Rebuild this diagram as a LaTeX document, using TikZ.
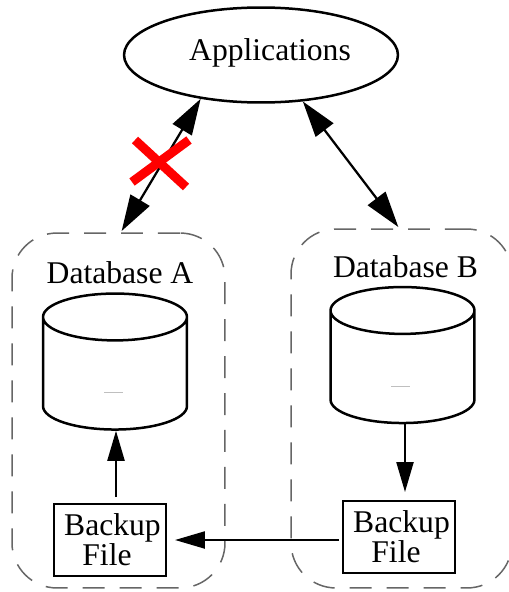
\documentclass[tikz,border=0pt]{standalone}
\usepackage{fontspec}
\setmainfont{Liberation Serif}
\usetikzlibrary{shapes.geometric,arrows.meta}
\tikzset{
	label18/.style={font=\fontsize{18}{17}\selectfont},
	dbbox/.style={draw=black!60, line width=0.03cm, dash pattern=on 0.44cm off 0.3cm, rounded corners=0.9cm, outer sep=0.04cm},
	store/.style={draw, cylinder, shape border rotate=90, aspect=4, line width=0.05cm, minimum width=2.88cm, minimum height=2.72cm},
	backup/.style={draw, rectangle, line width=0.04cm, minimum width=2.24cm, minimum height=1.44cm, align=center, inner sep=0pt, label18},
	link/.style={line width=0.045cm, -{Triangle[length=0.6cm, width=0.34cm]}},
	biglink/.style={line width=0.045cm, {Triangle[length=0.72cm, width=0.44cm]}-{Triangle[length=0.72cm, width=0.44cm]}},
	speck/.style={black!25, line width=0.02cm}
}
\begin{document}
\begin{tikzpicture}[x=0.02cm, y=-0.02cm]
	\useasboundingbox (0,0) rectangle (508,592);
	\node[draw, ellipse, line width=0.05cm, minimum width=5.48cm, minimum height=1.9cm, inner sep=0pt] (apps) at (261,55) {};
	\node[label18, anchor=base] (appstext) at (270,60) {Applications};
	\node[dbbox, minimum width=4.26cm, minimum height=7.1cm] (dba) at (118.5,410.5) {};
	\node[dbbox, minimum width=4.42cm, minimum height=7.18cm] (dbb) at (401.5,408.5) {};
	\node[label18, anchor=base] (dbatext) at (120,283) {Database A};
	\node[label18, anchor=base] (dbbtext) at (405.5,277) {Database B};
	\node[store] (cyla) at (115,378.5) {};
	\node[store] (cylb) at (402.5,372) {};
	\node[backup] (bfa) at (110,540) {\hspace*{0.1cm}Backup\\File\hspace*{0.12cm}};
	\node[backup] (bfb) at (399,537) {\hspace*{0.1cm}Backup\\File\hspace*{0.12cm}};
	\draw[speck] (104,392) -- (123,392);
	\draw[speck] (391,386) -- (410,386);
	\draw[biglink] (apps.216) -- (dba.89);
	\draw[biglink] (apps.312) -- (dbb.91.75);
	\draw[link] ([xshift=0.02cm, yshift=0.12cm]bfa.north -| cyla.south) -- ([xshift=0.02cm]cyla.south);
	\draw[link, shorten >=0.16cm] ([xshift=0.05cm]cylb.south) -- ([xshift=0.05cm]cylb.south |- bfb.north);
	\draw[link, shorten <=0.06cm, shorten >=0.16cm] (bfb.west |- bfa.east) -- (bfa.east);
	\draw[red, line width=0.18cm] (135,140) -- (186,187);
	\draw[red, line width=0.18cm] (132,182) -- (189,140);
\end{tikzpicture}
\end{document}
